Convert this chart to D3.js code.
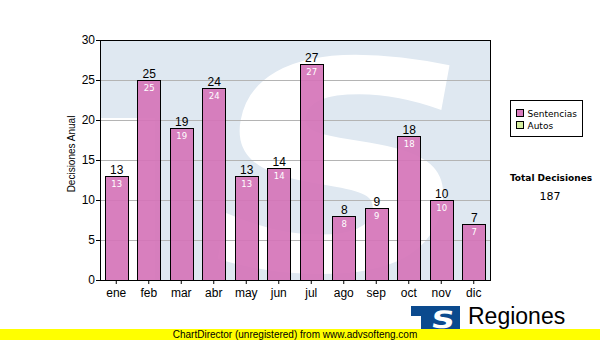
<!DOCTYPE html>
<html>
<head>
<meta charset="utf-8">
<script src="https://cdn.jsdelivr.net/npm/d3@7"></script>
<style>
  body { margin: 0; background: #fff; }
  svg { display: block; }
</style>
</head>
<body>
<div id="chart"></div>
<script>
// data
var months = ["ene", "feb", "mar", "abr", "may", "jun", "jul", "ago", "sep", "oct", "nov", "dic"];
var sentencias = [13, 25, 19, 24, 13, 14, 27, 8, 9, 18, 10, 7];
var yTicks = [0, 5, 10, 15, 20, 25, 30];
var legendNames = ["Sentencias", "Autos"];
var legendColors = ["#d97bbd", "#d6efa0"];

var svgWidth = 600;
var svgHeight = 340;

var margin = { top: 40, right: 110, bottom: 60, left: 100 };
var width = svgWidth - margin.left - margin.right;   // 390
var height = svgHeight - margin.top - margin.bottom; // 240

var svg = d3.select("#chart")
  .append("svg")
  .attr("width", svgWidth)
  .attr("height", svgHeight);

var chartGroup = svg.append("g")
  .attr("transform", `translate(${margin.left}, ${margin.top})`);

var xScale = d3.scaleBand()
  .domain(months)
  .range([0, width])
  .paddingInner(0.28)
  .paddingOuter(0.14);

var yScale = d3.scaleLinear()
  .domain([0, 30])
  .range([height, 0]);

// clip for the watermark
svg.append("clipPath").attr("id", "plotClip")
  .append("rect").attr("width", width).attr("height", height);

var bg = chartGroup.append("g").attr("clip-path", "url(#plotClip)");

// plot background with faded logo watermark
bg.append("rect")
  .attr("width", width)
  .attr("height", height)
  .attr("fill", "#ffffff");

bg.append("path")
  .attr("d", `M0,0 H${width} V${height} H55 V78 H0 Z`)
  .attr("fill", "#dfe8f1");

// big white S of the logo
bg.append("g")
  .attr("transform", "translate(222, 230) scale(1.3, 1) skewX(-8)")
  .append("text")
  .attr("text-anchor", "middle")
  .attr("font-family", "DejaVu Sans")
  .attr("font-weight", "bold")
  .attr("font-size", 290)
  .attr("fill", "#ffffff")
  .text("S");

// gridlines
chartGroup.selectAll(".grid")
  .data(yTicks.filter(d => d > 0 && d < 30))
  .enter()
  .append("line")
  .attr("x1", 0)
  .attr("x2", width)
  .attr("y1", d => yScale(d) + 0.5)
  .attr("y2", d => yScale(d) + 0.5)
  .attr("stroke", "#b4b4b4")
  .attr("stroke-width", 1);

// axes
var leftAxis = d3.axisLeft(yScale).tickValues(yTicks).tickSize(4).tickSizeOuter(0);
var bottomAxis = d3.axisBottom(xScale).tickSize(4).tickSizeOuter(0);

var yAxis = chartGroup.append("g").call(leftAxis);
var xAxis = chartGroup.append("g")
  .attr("transform", `translate(0, ${height})`)
  .call(bottomAxis);

[yAxis, xAxis].forEach(function(ax) {
  ax.select(".domain").remove();
  ax.selectAll("line").attr("stroke", "#000");
  ax.selectAll("text")
    .attr("fill", "#000")
    .attr("font-family", "Liberation Sans, Arial, sans-serif")
    .attr("font-size", 12);
});
yAxis.selectAll("text").attr("x", -5);
xAxis.selectAll("text").attr("y", 8);

// bars
chartGroup.selectAll(".bar")
  .data(sentencias)
  .enter()
  .append("rect")
  .attr("x", (d, i) => Math.round(xScale(months[i])) + 0.5)
  .attr("y", d => Math.round(yScale(d)) + 0.5)
  .attr("width", Math.round(xScale.bandwidth()))
  .attr("height", d => height - Math.round(yScale(d)))
  .attr("fill", "#d574b8")
  .attr("fill-opacity", 0.92)
  .attr("stroke", "#000")
  .attr("stroke-width", 1);

// value labels above bars
chartGroup.selectAll(".valTop")
  .data(sentencias)
  .enter()
  .append("text")
  .attr("x", (d, i) => xScale(months[i]) + xScale.bandwidth() / 2 + 0.5)
  .attr("y", d => yScale(d) - 2)
  .attr("text-anchor", "middle")
  .attr("font-family", "Liberation Sans, Arial, sans-serif")
  .attr("font-size", 12)
  .attr("fill", "#000")
  .text(d => d);

// value labels inside bars
chartGroup.selectAll(".valIn")
  .data(sentencias)
  .enter()
  .append("text")
  .attr("x", (d, i) => xScale(months[i]) + xScale.bandwidth() / 2 + 0.5)
  .attr("y", d => yScale(d) + 11)
  .attr("text-anchor", "middle")
  .attr("font-family", "DejaVu Sans, Verdana, sans-serif")
  .attr("font-size", 8.5)
  .attr("fill", "#ffffff")
  .text(d => d);

// plot frame
chartGroup.append("rect")
  .attr("x", 0.5)
  .attr("y", 0.5)
  .attr("width", width)
  .attr("height", height)
  .attr("fill", "none")
  .attr("stroke", "#000")
  .attr("stroke-width", 1);

// y axis title
chartGroup.append("text")
  .attr("transform", "rotate(-90)")
  .attr("x", -height / 2 + 6)
  .attr("y", -25)
  .attr("text-anchor", "middle")
  .attr("font-family", "Liberation Sans, Arial, sans-serif")
  .attr("font-size", 10)
  .attr("fill", "#000")
  .text("Decisiones Anual");

// legend
var legend = svg.append("g").attr("transform", "translate(510.5, 100.5)");
legend.append("rect")
  .attr("width", 72)
  .attr("height", 36)
  .attr("fill", "#fff")
  .attr("stroke", "#000");

var legendItems = legend.selectAll(".item")
  .data(legendNames)
  .enter()
  .append("g")
  .attr("transform", (d, i) => `translate(6, ${9 + i * 12})`);

legendItems.append("rect")
  .attr("width", 7)
  .attr("height", 7)
  .attr("fill", (d, i) => legendColors[i])
  .attr("stroke", "#000");

legendItems.append("text")
  .attr("x", 11)
  .attr("y", 7)
  .attr("font-family", "DejaVu Sans, Verdana, sans-serif")
  .attr("font-size", 9)
  .attr("fill", "#000")
  .text(d => d);

// total
svg.append("text")
  .attr("x", 551)
  .attr("y", 181)
  .attr("text-anchor", "middle")
  .attr("font-family", "DejaVu Sans, Verdana, sans-serif")
  .attr("font-weight", "bold")
  .attr("font-size", 9)
  .attr("fill", "#000")
  .text("Total Decisiones");

svg.append("text")
  .attr("x", 550)
  .attr("y", 200)
  .attr("text-anchor", "middle")
  .attr("font-family", "DejaVu Sans, Verdana, sans-serif")
  .attr("font-size", 11)
  .attr("fill", "#000")
  .text(d3.sum(sentencias));

// logo at the bottom
var logo = svg.append("g").attr("transform", "translate(411, 306)");
logo.append("path")
  .attr("d", "M0,0 H49 V23 H40 V23 H10 V10 H0 Z")
  .attr("fill", "#0b4a8e");
logo.append("rect")
  .attr("x", 10)
  .attr("width", 39)
  .attr("height", 23)
  .attr("fill", "#0b4a8e");
logo.append("g")
  .attr("transform", "translate(31, 22) scale(1.35, 1) skewX(-6)")
  .append("text")
  .attr("text-anchor", "middle")
  .attr("font-family", "DejaVu Sans")
  .attr("font-weight", "bold")
  .attr("font-size", 24)
  .attr("fill", "#fff")
  .text("S");

svg.append("text")
  .attr("x", 468)
  .attr("y", 324)
  .attr("font-family", "Liberation Sans, Arial, sans-serif")
  .attr("font-size", 23)
  .attr("fill", "#000")
  .text("Regiones");

// unregistered banner
svg.append("rect")
  .attr("x", 0)
  .attr("y", 329)
  .attr("width", svgWidth)
  .attr("height", 11)
  .attr("fill", "#ffff00");

svg.append("text")
  .attr("x", 295)
  .attr("y", 338)
  .attr("text-anchor", "middle")
  .attr("font-family", "Liberation Sans, Arial, sans-serif")
  .attr("font-size", 10)
  .attr("fill", "#000")
  .text("ChartDirector (unregistered) from www.advsofteng.com");
</script>
</body>
</html>
